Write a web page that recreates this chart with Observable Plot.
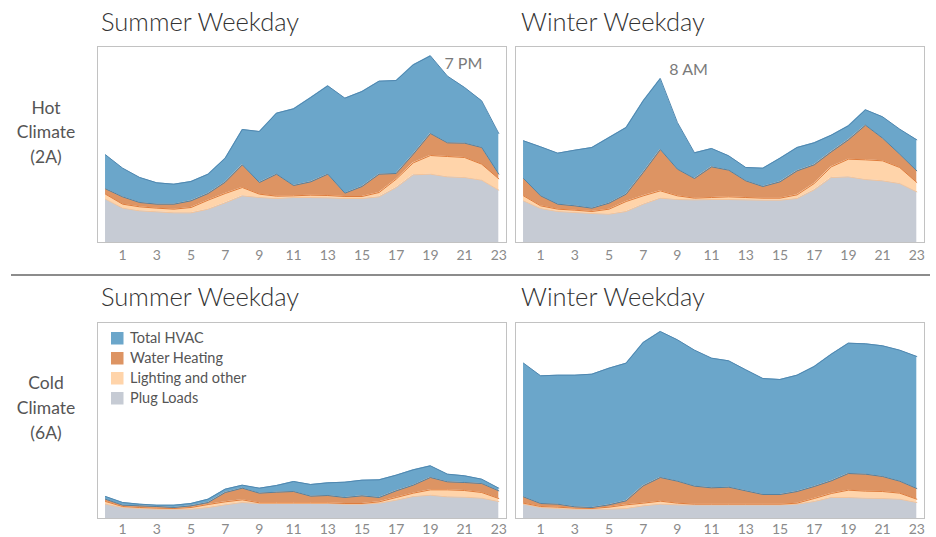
<!DOCTYPE html>
<html>
<head>
<meta charset="utf-8">
<script src="https://cdn.jsdelivr.net/npm/d3@7"></script>
<script src="https://cdn.jsdelivr.net/npm/@observablehq/plot@0.6"></script>
<style>
  body { margin: 0; background: #fff; }
  #root { position: relative; width: 936px; height: 537px; overflow: hidden; font-family: Lato, "Open Sans", sans-serif; }
  .panel { position: absolute; }
  #overlay { position: absolute; left: 0; top: 0; }
</style>
</head>
<body>
<div id="root"></div>
<script>
// ---------- categories ----------
const hours = [0,1,2,3,4,5,6,7,8,9,10,11,12,13,14,15,16,17,18,19,20,21,22,23];
const xTicks = [1,3,5,7,9,11,13,15,17,19,21,23];
const seriesNames = ["Plug Loads", "Lighting and other", "Water Heating", "Total HVAC"]; // stack order, bottom to top
const legendOrder = ["Total HVAC", "Water Heating", "Lighting and other", "Plug Loads"];
const fills = ["#c6cbd4", "#ffd4aa", "#dd9463", "#6ba6ca"];
const edges = ["#f3c49b", "#df7c3c", "#55819f", "#4f87b0"];
const columnTitles = ["Summer Weekday", "Winter Weekday"];
const rowLabels = [["Hot", "Climate", "(2A)"], ["Cold", "Climate", "(6A)"]];

// ---------- series values (load by hour, relative units) ----------
// Hot climate (2A), summer weekday
const hotSummerPlug     = [1.30,1.03,0.95,0.92,0.89,0.89,1.00,1.19,1.40,1.35,1.32,1.35,1.35,1.34,1.32,1.32,1.37,1.65,2.03,2.05,1.97,1.95,1.87,1.57];
const hotSummerLighting = [0.15,0.12,0.12,0.11,0.11,0.16,0.27,0.28,0.25,0.10,0.07,0.05,0.07,0.07,0.06,0.06,0.13,0.25,0.36,0.56,0.61,0.60,0.48,0.34];
const hotSummerWater    = [0.16,0.22,0.13,0.12,0.15,0.20,0.20,0.34,0.68,0.35,0.66,0.31,0.40,0.64,0.10,0.30,0.55,0.17,0.26,0.66,0.41,0.43,0.50,0.14];
const hotSummerHVAC     = [1.02,0.86,0.75,0.64,0.60,0.58,0.58,0.72,1.06,1.53,1.83,2.30,2.53,2.65,2.85,2.85,2.79,2.79,2.68,2.33,2.00,1.67,1.40,1.22];
// Hot climate (2A), winter weekday
const hotWinterPlug     = [1.25,1.02,0.93,0.90,0.87,0.85,0.93,1.15,1.33,1.29,1.28,1.29,1.29,1.28,1.27,1.27,1.32,1.58,1.95,1.97,1.89,1.85,1.77,1.52];
const hotWinterLighting = [0.15,0.08,0.07,0.07,0.06,0.15,0.30,0.25,0.22,0.11,0.05,0.06,0.08,0.07,0.06,0.06,0.11,0.19,0.32,0.53,0.59,0.60,0.48,0.28];
const hotWinterWater    = [0.52,0.30,0.15,0.13,0.10,0.18,0.22,0.70,1.24,0.80,0.59,0.92,0.80,0.50,0.35,0.49,0.72,0.56,0.45,0.58,1.04,0.68,0.40,0.35];
const hotWinterHVAC     = [1.13,1.47,1.53,1.67,1.82,1.97,2.00,2.15,2.13,1.40,0.77,0.55,0.43,0.40,0.55,0.71,0.70,0.66,0.50,0.42,0.46,0.64,0.75,0.93];
// Cold climate (6A), summer weekday
const coldSummerPlug     = [0.43,0.33,0.30,0.28,0.28,0.28,0.33,0.41,0.48,0.45,0.45,0.45,0.45,0.45,0.43,0.43,0.46,0.55,0.66,0.70,0.65,0.64,0.61,0.51];
const coldSummerLighting = [0.08,0.03,0.03,0.03,0.02,0.05,0.09,0.09,0.08,0.02,0.02,0.02,0.02,0.02,0.02,0.02,0.04,0.08,0.10,0.16,0.21,0.20,0.17,0.09];
const coldSummerWater    = [0.07,0.04,0.05,0.05,0.03,0.05,0.06,0.28,0.35,0.29,0.32,0.34,0.20,0.22,0.18,0.23,0.13,0.20,0.24,0.37,0.24,0.24,0.27,0.23];
const coldSummerHVAC     = [0.08,0.08,0.05,0.04,0.07,0.07,0.10,0.10,0.09,0.15,0.20,0.30,0.35,0.38,0.46,0.47,0.53,0.47,0.46,0.35,0.23,0.20,0.13,0.08];
// Cold climate (6A), winter weekday
const coldWinterPlug     = [0.43,0.33,0.30,0.28,0.28,0.28,0.30,0.38,0.43,0.41,0.41,0.41,0.41,0.41,0.41,0.41,0.43,0.51,0.63,0.63,0.61,0.60,0.58,0.48];
const coldWinterLighting = [0.03,0.03,0.04,0.03,0.02,0.06,0.11,0.08,0.09,0.05,0.02,0.02,0.02,0.02,0.02,0.02,0.03,0.09,0.12,0.22,0.21,0.21,0.18,0.10];
const coldWinterWater    = [0.19,0.09,0.09,0.04,0.03,0.07,0.12,0.52,0.71,0.66,0.54,0.49,0.51,0.40,0.29,0.29,0.35,0.36,0.38,0.50,0.51,0.45,0.36,0.32];
const coldWinterHVAC     = [4.01,3.83,3.87,3.95,4.00,4.10,4.13,4.30,4.38,4.24,4.08,3.89,3.79,3.63,3.48,3.45,3.49,3.60,3.80,3.91,3.91,3.92,3.93,3.96];

// peak annotations
const annotations = [
  { panel: 0, hour: 19, label: "7 PM", dx: 14, dy: 8 },
  { panel: 1, hour: 8,  label: "8 AM", dx: 9,  dy: -9 }
];

// ---------- layout ----------
const panels = [
  { row: 0, col: 0, left: 96,  top: 45,  series: [hotSummerPlug, hotSummerLighting, hotSummerWater, hotSummerHVAC] },
  { row: 0, col: 1, left: 514, top: 45,  series: [hotWinterPlug, hotWinterLighting, hotWinterWater, hotWinterHVAC] },
  { row: 1, col: 0, left: 96,  top: 321, series: [coldSummerPlug, coldSummerLighting, coldSummerWater, coldSummerHVAC] },
  { row: 1, col: 1, left: 514, top: 321, series: [coldWinterPlug, coldWinterLighting, coldWinterWater, coldWinterHVAC] }
];

const root = document.getElementById("root");

panels.forEach((p, pi) => {
  const rows = [];
  p.series.forEach((vals, k) => {
    hours.forEach((h, i) => rows.push({ hour: h, series: seriesNames[k], value: vals[i] }));
  });
  const notes = annotations.filter(a => a.panel === pi).map(a => ({
    ...a,
    total: d3.sum(p.series, vals => vals[hours.indexOf(a.hour)])
  }));
  const bottomRow = p.row === 1;

  const chart = Plot.plot({
    width: 411,
    height: bottomRow ? 216 : 226,
    marginLeft: 1,
    marginRight: 1,
    marginTop: 1,
    marginBottom: bottomRow ? 19 : 29,
    x: { domain: [-0.47, 23.45], ticks: xTicks, tickSize: 0, tickPadding: bottomRow ? 6 : 8, label: null, tickFormat: d => String(d) },
    y: { domain: [0, 5.88], axis: null },
    color: { domain: seriesNames, range: fills },
    opacity: { type: "identity" },
    style: { fontFamily: "Lato, 'Open Sans', sans-serif", fontSize: "14px", color: "#8a8a8a", background: "transparent", overflow: "visible" },
    marks: [
      Plot.areaY(rows, { x: "hour", y: "value", z: "series", fill: "series", order: seriesNames }),
      ...seriesNames.map((s, k) =>
        Plot.lineY(rows, Plot.stackY2({
          x: "hour", y: "value", z: "series", order: seriesNames,
          stroke: edges[k], strokeWidth: 1,
          strokeOpacity: d => (d.series === s ? 1 : 0)
        }))
      ),
      Plot.frame({ stroke: "#c2c2c2" }),
      Plot.text(notes, {
        x: "hour", y: "total", text: "label",
        textAnchor: "start", lineAnchor: "middle",
        fill: "#7a7a7a", fontSize: 16
      })
    ]
  });
  const wrap = document.createElement("div");
  wrap.className = "panel";
  wrap.style.left = p.left + "px";
  wrap.style.top = p.top + "px";
  wrap.appendChild(chart);
  root.appendChild(wrap);
  // per-annotation offsets
  if (notes.length) {
    const t = chart.querySelectorAll("g[aria-label='text'] text");
    t.forEach((el, j) => {
      el.setAttribute("dx", notes[j].dx);
      el.setAttribute("dy", notes[j].dy);
    });
  }
});

// ---------- overlay: titles, row labels, separator, legend ----------
const svg = d3.select(root).append("svg")
  .attr("id", "overlay").attr("width", 936).attr("height", 537)
  .style("font-family", "Lato, 'Open Sans', sans-serif");

const titlePos = [
  { x: 101, y: 31 }, { x: 521, y: 31 },
  { x: 101, y: 306 }, { x: 521, y: 306 }
];
panels.forEach((p, i) => {
  svg.append("text").attr("x", titlePos[i].x).attr("y", titlePos[i].y)
    .attr("font-size", 25.5).attr("font-weight", 300).attr("fill", "#333")
    .text(columnTitles[p.col]);
});

const rowBaselines = [[114, 138, 163], [389, 414, 439]];
rowLabels.forEach((lines, r) => {
  lines.forEach((line, j) => {
    svg.append("text").attr("x", 46).attr("y", rowBaselines[r][j])
      .attr("text-anchor", "middle").attr("font-size", 17.5).attr("fill", "#555")
      .text(line);
  });
});

svg.append("line").attr("x1", 11).attr("x2", 930).attr("y1", 275).attr("y2", 275)
  .attr("stroke", "#8c8c8c").attr("stroke-width", 2);

const legend = svg.append("g").attr("transform", "translate(111,332)");
legendOrder.forEach((name, i) => {
  const k = seriesNames.indexOf(name);
  legend.append("rect").attr("x", 0).attr("y", i * 20).attr("width", 12.5).attr("height", 12.5).attr("fill", fills[k]);
  legend.append("text").attr("x", 19).attr("y", i * 20 + 11).attr("font-size", 14.5).attr("fill", "#555").text(name);
});
</script>
</body>
</html>
